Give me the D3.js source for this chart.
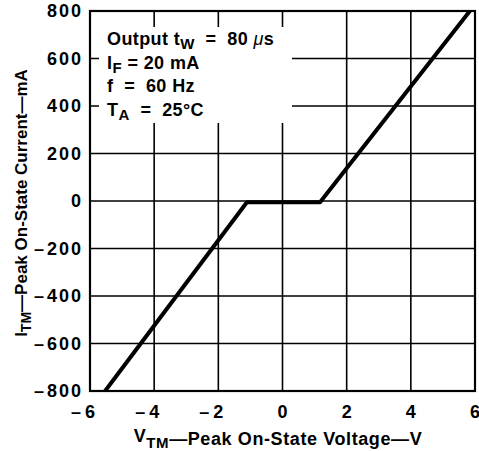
<!DOCTYPE html>
<html><head><meta charset="utf-8">
<script src="https://cdn.jsdelivr.net/npm/d3@7"></script>
<style>
body{margin:0;background:#fff;}
svg{display:block;}
text{font-family:"Liberation Sans",Arial,sans-serif;font-weight:bold;fill:#000;}
</style></head>
<body>
<svg id="c" width="479" height="451"></svg>
<script>
const xTicks = [-6, -4, -2, 0, 2, 4, 6];
const yTicks = [-800, -600, -400, -200, 0, 200, 400, 600, 800];
const curveV = [-5.53, -1.11, 1.17, 5.84];
const curveI = [-800, -5, -5, 800];
const legendLines = [
  [["Output t", 0], ["W", 1], ["  =  80 ", 0], ["\u03bc", 2], ["s", 0]],
  [["I", 0], ["F", 1], [" = 20 mA", 0]],
  [["f  =  60 Hz", 0]],
  [["T", 0], ["A", 1], ["  =  25\u00b0C", 0]]
];

const svg = d3.select("#c");
const x = d3.scaleLinear().domain([-6, 6]).range([90, 475]);
const y = d3.scaleLinear().domain([-800, 800]).range([391, 11]);

// grid
svg.append("g").selectAll("line").data(xTicks).join("line")
  .attr("x1", d => x(d)).attr("x2", d => x(d)).attr("y1", y(800)).attr("y2", y(-800))
  .attr("stroke", "#000").attr("stroke-width", 1.6);
svg.append("g").selectAll("line").data(yTicks).join("line")
  .attr("x1", x(-6)).attr("x2", x(6)).attr("y1", d => y(d)).attr("y2", d => y(d))
  .attr("stroke", "#000").attr("stroke-width", 1.6);
// frame
svg.append("rect").attr("x", x(-6)).attr("y", y(800)).attr("width", x(6) - x(-6)).attr("height", y(-800) - y(800))
  .attr("fill", "none").attr("stroke", "#000").attr("stroke-width", 2.2);

// legend box (white, covers grid)
const lg = svg.append("g");
lg.append("rect").attr("x", x(-6) + 9).attr("y", 27).attr("width", 292 - (x(-6) + 9)).attr("height", 96).attr("fill", "#fff");
legendLines.forEach((parts, i) => {
  const t = lg.append("text").attr("x", 107).attr("y", 45 + i * 23.5).attr("font-size", 18)
    .attr("letter-spacing", 0.4).style("white-space", "pre");
  parts.forEach(([s, k], j) => {
    const ts = t.append("tspan").text(s);
    let dy = 0;
    if (k === 1) { ts.attr("font-size", 15); dy = 4; }
    if (j > 0 && parts[j - 1][1] === 1) dy = -4;
    if (k === 2) ts.attr("font-weight", "normal").attr("font-style", "italic");
    ts.attr("dy", dy);
  });
});

// data line
const pts = curveV.map((v, i) => [v, curveI[i]]);
svg.append("path").attr("d", d3.line().x(d => x(d[0])).y(d => y(d[1]))(pts))
  .attr("fill", "none").attr("stroke", "#000").attr("stroke-width", 4).attr("stroke-linejoin", "round");

// y tick labels
const yl = svg.append("g");
yTicks.forEach(v => {
  const yy = y(v) + 6;
  const t = yl.append("text").attr("x", 83).attr("y", yy).attr("text-anchor", "end")
    .attr("font-size", 18).attr("letter-spacing", 2).text(Math.abs(v));
  if (v < 0) {
    const w = t.node().getComputedTextLength();
    yl.append("text").attr("x", 83 - w - 3).attr("y", yy).attr("text-anchor", "end").attr("font-size", 18).text("\u2013");
  }
});
// x tick labels
const xl = svg.append("g");
xTicks.forEach(v => {
  const t = xl.append("text").attr("x", x(v)).attr("y", 418).attr("text-anchor", "middle")
    .attr("font-size", 18).text(Math.abs(v));
  if (v < 0) {
    const w = t.node().getComputedTextLength();
    xl.append("text").attr("x", x(v) - w / 2 - 4).attr("y", 418).attr("text-anchor", "end").attr("font-size", 18).text("\u2013");
  }
});

// x axis title
const xt = svg.append("text").attr("x", 278).attr("y", 445).attr("text-anchor", "middle")
  .attr("font-size", 18).attr("letter-spacing", 0.6);
xt.append("tspan").text("V").attr("dy", -3);
xt.append("tspan").text("TM").attr("font-size", 15).attr("dy", 6);
xt.append("tspan").text("\u2014Peak On-State Voltage\u2014V").attr("dy", -3);

// y axis title
const yt = svg.append("text").attr("transform", "translate(27,203) rotate(-90)").attr("text-anchor", "middle").attr("font-size", 17);
yt.append("tspan").text("I");
yt.append("tspan").text("TM").attr("font-size", 14).attr("dy", 4);
yt.append("tspan").text("\u2014Peak On-State Current\u2014mA").attr("dy", -4);
</script>
</body></html>
